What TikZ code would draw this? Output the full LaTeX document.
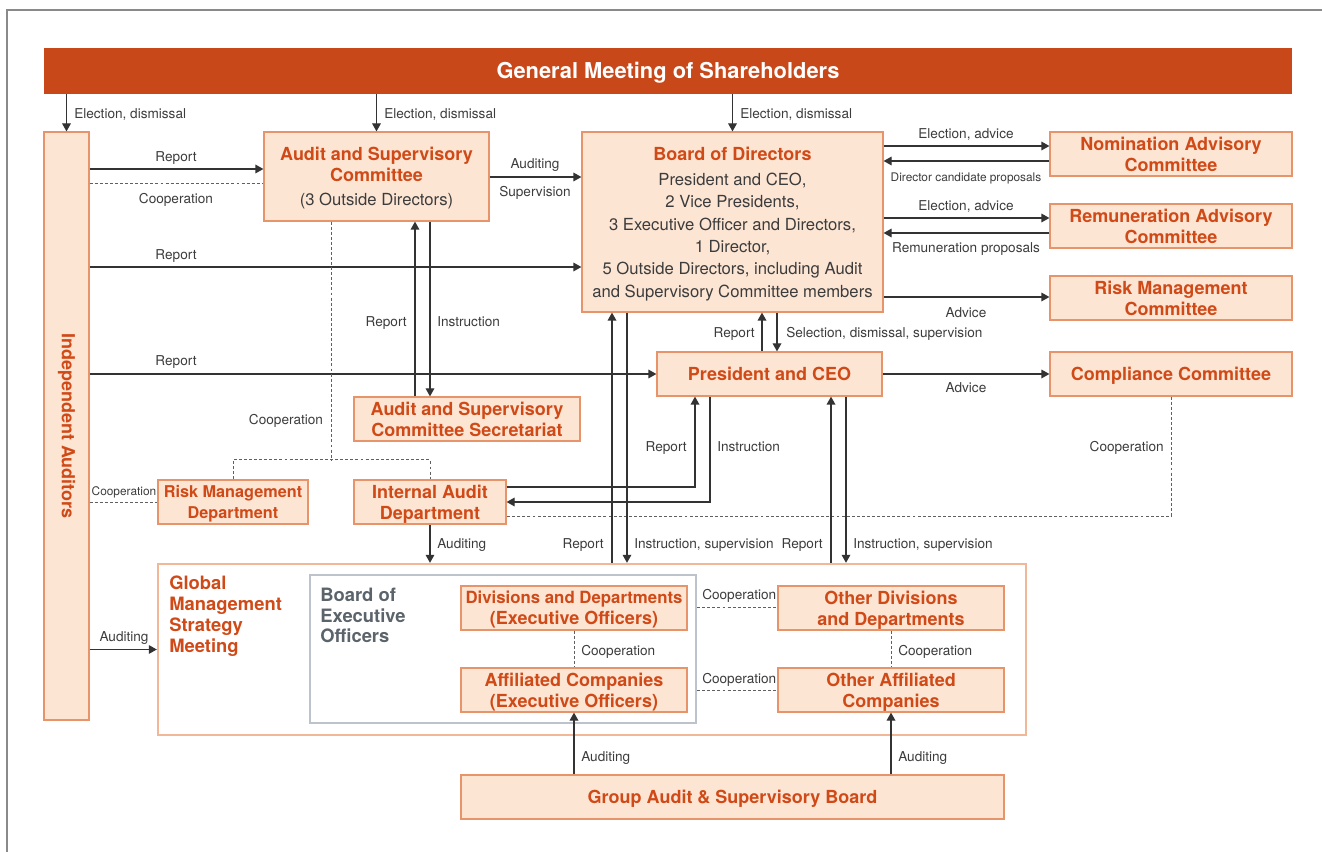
\documentclass[tikz,border=0pt]{standalone}
\usepackage{fontspec}
\usepackage{graphicx}
\setmainfont{TeX Gyre Heros}
\usetikzlibrary{arrows.meta,calc}
\definecolor{gmred}{HTML}{C8481A}
\definecolor{boxfill}{HTML}{FDE5D4}
\definecolor{boxdraw}{HTML}{E8946A}
\definecolor{ttl}{HTML}{D04A18}
\definecolor{labc}{HTML}{3C3C3C}
\definecolor{linec}{HTML}{333333}
\definecolor{dashc}{HTML}{606060}
\definecolor{gmsdraw}{HTML}{F0B896}
\definecolor{beodraw}{HTML}{BCC3CA}
\definecolor{beotext}{HTML}{5B636B}
\definecolor{framec}{HTML}{8A8A8A}
\newcommand\mytitle{\fontsize{13.5}{15.75}\selectfont\bfseries}
\newcommand\mybody{\fontsize{12.5}{16.8}\selectfont}
\newcommand\mylab{\fontsize{10.2}{12}\selectfont}
\newcommand\mysmall{\fontsize{8.9}{10}\selectfont}
\begin{document}
\begin{tikzpicture}[x=0.75pt,y=-0.75pt,
  sz/.style 2 args={minimum width=#1*0.75pt, minimum height=#2*0.75pt},
  bx/.style={draw=boxdraw, fill=boxfill, line width=0.9pt, inner sep=0pt, align=center, text=ttl, font=\mytitle},
  box/.style={bx, text depth=0pt},
  gmbar/.style={fill=gmred, inner sep=0pt, text=white, font=\fontsize{16.4}{18}\selectfont\bfseries, text height=11.8pt, text depth=0pt},
  lab/.style={font=\mylab, text=labc, inner sep=0pt, text height=7.3pt, text depth=0pt},
  smalllab/.style={lab, font=\mysmall, text height=6.4pt},
  arr/.style={draw=linec, line width=0.9pt, -{Triangle[length=6pt,width=6.5pt]}},
  dsh/.style={draw=dashc, line width=0.75pt, dash pattern=on 2.2pt off 1.6pt}]
\useasboundingbox (0,0) rectangle (1322,852);
\draw[framec, line width=1.1pt] (7,852) -- (7,10) -- (1322,10);

% nodes
\node[gmbar, sz={1248}{46}] (gm) at (668,71) {General Meeting of Shareholders};
\node[bx, sz={45}{588}] (ia) at (66.5,426) {\rotatebox[origin=c]{-90}{Independent Auditors}};
\node[box, sz={225}{89}] (asc) at (376.5,176.5) {Audit and Supervisory\\Committee\\[2.6pt]{\mybody\mdseries\color{labc}(3 Outside Directors)}};
\node[box, sz={301}{180}, font=\mybody, text=labc] (bod) at (732.5,222) {{\mytitle\color{ttl}Board of Directors}\\[2pt]President and CEO,\\2 Vice Presidents,\\3 Executive Officer and Directors,\\1 Director,\\5 Outside Directors, including Audit\\and Supervisory Committee members};
\node[box, sz={242}{44}] (nom) at (1171,154) {Nomination Advisory\\Committee};
\node[box, sz={242}{44}] (rem) at (1171,226) {Remuneration Advisory\\Committee};
\node[box, sz={242}{44}] (rmc) at (1171,298) {Risk Management\\Committee};
\node[box, sz={242}{44}, text height=9.7pt] (cc) at (1171,374) {Compliance Committee};
\node[box, sz={225}{44}, text height=9.7pt] (pres) at (769.5,374) {President and CEO};
\node[box, sz={226}{44}] (sec) at (467,419) {Audit and Supervisory\\Committee Secretariat};
\node[box, sz={150}{44}, font=\fontsize{12.2}{15.75}\selectfont\bfseries] (rmd) at (233,502) {Risk Management\\Department};
\node[box, sz={152}{44}] (iad) at (430,502) {Internal Audit\\Department};
\node[draw=gmsdraw, fill=white, line width=1.8pt, inner sep=0pt, sz={868}{171}] (gms) at (592,649.5) {};
\node[draw=beodraw, fill=white, line width=1.8pt, inner sep=0pt, sz={386}{148}] (beo) at (503,649) {};
\node[anchor=north west, inner sep=0pt, align=left, text=ttl, font=\fontsize{13.8}{15.75}\selectfont\bfseries] (gmst) at (169,576) {Global\\Management\\Strategy\\Meeting};
\node[anchor=north west, inner sep=0pt, align=left, text=beotext, font=\fontsize{13.8}{15.4}\selectfont\bfseries] (beot) at (320,588) {Board of\\Executive\\Officers};
\node[box, sz={226}{44}] (dd) at (574,608) {{\fontsize{12.6}{15.75}\selectfont Divisions and Departments}\\(Executive Officers)};
\node[box, sz={226}{44}] (ac) at (574,690) {Affiliated Companies\\(Executive Officers)};
\node[box, sz={226}{44}] (od) at (891,608) {Other Divisions\\and Departments};
\node[box, sz={226}{44}] (oa) at (891,690) {Other Affiliated\\Companies};
\node[box, sz={543}{44}, text height=9.7pt] (gasb) at (732.5,797) {Group Audit \& Supervisory Board};

% connectors from shareholders
\draw[arr] (ia.north |- gm.south) -- (ia.north);
\draw[arr] (asc.north |- gm.south) -- (asc.north);
\draw[arr] (bod.north |- gm.south) -- (bod.north);
% independent auditors
\draw[arr] (ia.east |- 0,169) -- (asc.west |- 0,169);
\draw[dsh] (ia.east |- 0,184) -- (asc.west |- 0,184);
\draw[arr] (asc.east |- 0,177) -- (bod.west |- 0,177);
\draw[arr] (ia.east |- 0,267) -- (bod.west |- 0,267);
\draw[arr] (ia.east |- pres.west) -- (pres.west);
\draw[dsh] (ia.east |- rmd.west) -- (rmd.west);
\draw[arr] (ia.east |- gms.west) -- (gms.west);
% board and committees
\draw[arr] (bod.east |- 0,146) -- (nom.west |- 0,146);
\draw[arr] (nom.west |- 0,161) -- (bod.east |- 0,161);
\draw[arr] (bod.east |- 0,218) -- (rem.west |- 0,218);
\draw[arr] (rem.west |- 0,233) -- (bod.east |- 0,233);
\draw[arr] (bod.east |- 0,297) -- (rmc.west |- 0,297);
\draw[arr] (pres.east) -- (cc.west);
% board and president
\draw[arr] (762,0 |- pres.north) -- (762,0 |- bod.south);
\draw[arr] (777,0 |- bod.south) -- (777,0 |- pres.north);
% committee and secretariat
\draw[arr] (415,0 |- sec.north) -- (415,0 |- asc.south);
\draw[arr] (430,0 |- asc.south) -- (430,0 |- sec.north);
% cooperation dashed
\draw[dsh] (331,0 |- asc.south) -- (331,460);
\draw[dsh] (rmd.north) -- (rmd.north |- 0,460) -- (iad.north |- 0,460) -- (iad.north);
% internal audit and president
\draw[arr] (iad.east |- 0,487) -- (695,487) -- (695,0 |- pres.south);
\draw[arr] (710,0 |- pres.south) -- (710,502) -- (iad.east);
\draw[dsh] (cc.south) -- (cc.south |- 0,516) -- (iad.east |- 0,516);
% to global meeting
\draw[arr] (iad.south) -- (iad.south |- gms.north);
\draw[arr] (612,0 |- gms.north) -- (612,0 |- bod.south);
\draw[arr] (627,0 |- bod.south) -- (627,0 |- gms.north);
\draw[arr] (831,0 |- gms.north) -- (831,0 |- pres.south);
\draw[arr] (846,0 |- pres.south) -- (846,0 |- gms.north);
% inside global meeting
\draw[dsh] (beo.east |- 0,607) -- (od.west |- 0,607);
\draw[dsh] (beo.east |- 0,690) -- (oa.west);
\draw[dsh] (dd.south) -- (ac.north);
\draw[dsh] (od.south) -- (oa.north);
\draw[arr] (ac.south |- gasb.north) -- (ac.south);
\draw[arr] (oa.south |- gasb.north) -- (oa.south);

% labels
\node[lab, anchor=west] (l1) at (74,114) {Election, dismissal};
\node[lab, anchor=west] (l2) at (384,114) {Election, dismissal};
\node[lab, anchor=west] (l3) at (740,114) {Election, dismissal};
\node[lab] (l4) at (176,157) {Report};
\node[lab] (l5) at (176,199) {Cooperation};
\node[lab] (l6) at (535,164) {Auditing};
\node[lab] (l7) at (535,192) {Supervision};
\node[lab] (l8) at (176,255) {Report};
\node[lab] (l9) at (176,361) {Report};
\node[lab] (l10) at (966,134) {Election, advice};
\node[smalllab] (l11) at (966,177) {Director candidate proposals};
\node[lab] (l12) at (966,206) {Election, advice};
\node[lab] (l13) at (966,248) {Remuneration proposals};
\node[lab] (l14) at (966,313) {Advice};
\node[lab] (l15) at (966,388) {Advice};
\node[lab, anchor=east] (l16) at (755,333) {Report};
\node[lab, anchor=west] (l17) at (786,333) {Selection, dismissal, supervision};
\node[lab, anchor=east] (l18) at (407,322) {Report};
\node[lab, anchor=west] (l19) at (437,322) {Instruction};
\node[lab] (l20) at (286,420) {Cooperation};
\node[smalllab] (l21) at (124,491) {Cooperation};
\node[lab, anchor=east] (l22) at (687,447) {Report};
\node[lab, anchor=west] (l23) at (717,447) {Instruction};
\node[lab, anchor=east] (l24) at (1164,447) {Cooperation};
\node[lab, anchor=west] (l25) at (437,544) {Auditing};
\node[lab, anchor=east] (l26) at (604,544) {Report};
\node[lab, anchor=west] (l27) at (634,544) {Instruction, supervision};
\node[lab, anchor=east] (l28) at (823,544) {Report};
\node[lab, anchor=west] (l29) at (853,544) {Instruction, supervision};
\node[lab] (l30) at (124,637) {Auditing};
\node[lab, anchor=west] (l31) at (702,595) {Cooperation};
\node[lab, anchor=west] (l32) at (702,679) {Cooperation};
\node[lab, anchor=west] (l33) at (581,651) {Cooperation};
\node[lab, anchor=west] (l34) at (898,651) {Cooperation};
\node[lab, anchor=west] (l35) at (581,757) {Auditing};
\node[lab, anchor=west] (l36) at (898,757) {Auditing};
\end{tikzpicture}
\end{document}
